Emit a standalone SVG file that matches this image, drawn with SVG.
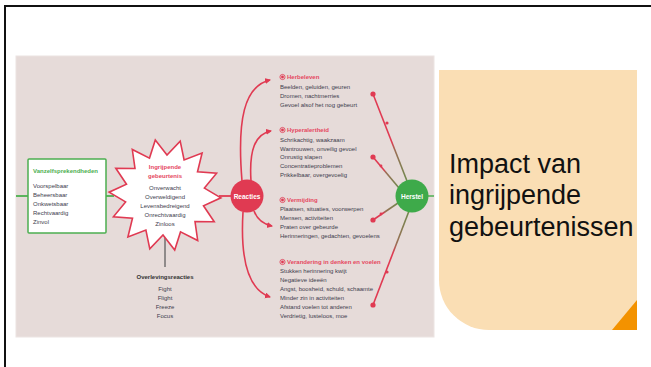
<svg xmlns="http://www.w3.org/2000/svg" width="651" height="367" viewBox="0 0 651 367">
<defs>
<style>
text{font-family:"Liberation Sans",Arial,sans-serif;}
.it{font-size:6px;fill:#3d3d4d;}
.itc{font-size:6px;fill:#3d3d4d;text-anchor:middle;}
.rt{font-size:6px;fill:#e5475f;font-weight:bold;}
.curve{fill:none;stroke:#e03a52;stroke-width:1.6;}
.dot{fill:#e03a52;}
.title{font-size:27px;fill:#111;}
</style>
<marker id="ah" markerUnits="userSpaceOnUse" markerWidth="7" markerHeight="7" refX="5" refY="3" orient="auto">
<path d="M0,0 L6,3 L0,6 z" fill="#e03a52"/>
</marker>
<linearGradient id="g1" gradientUnits="userSpaceOnUse" x1="407" y1="181" x2="373" y2="94">
<stop offset="0" stop-color="#6f8a4e"/><stop offset="0.35" stop-color="#9a6e55"/><stop offset="0.45" stop-color="#e03a52"/><stop offset="1" stop-color="#e03a52"/>
</linearGradient>
<linearGradient id="g2" gradientUnits="userSpaceOnUse" x1="399" y1="188" x2="373" y2="157">
<stop offset="0" stop-color="#6f8a4e"/><stop offset="0.5" stop-color="#9a6e55"/><stop offset="0.6" stop-color="#e03a52"/><stop offset="1" stop-color="#e03a52"/>
</linearGradient>
<linearGradient id="g3" gradientUnits="userSpaceOnUse" x1="398" y1="203" x2="373" y2="220">
<stop offset="0" stop-color="#6f8a4e"/><stop offset="0.5" stop-color="#9a6e55"/><stop offset="0.6" stop-color="#e03a52"/><stop offset="1" stop-color="#e03a52"/>
</linearGradient>
<linearGradient id="g4" gradientUnits="userSpaceOnUse" x1="409" y1="211" x2="373" y2="305">
<stop offset="0" stop-color="#6f8a4e"/><stop offset="0.35" stop-color="#9a6e55"/><stop offset="0.45" stop-color="#e03a52"/><stop offset="1" stop-color="#e03a52"/>
</linearGradient>
</defs>

<rect width="651" height="367" fill="#ffffff"/>
<path d="M5,367 V6 H651" fill="none" stroke="#111" stroke-width="2"/>

<!-- picture panel -->
<rect x="16" y="56" width="418" height="281" fill="#e6dbd9" stroke="#ece4e2" stroke-width="1"/>

<!-- title box -->
<g id="title">
<path d="M439,70 H637 V330 H489 A50,50 0 0 1 439,280 Z" fill="#fadeb4"/>
<path d="M612,330 H637 V300 Z" fill="#f39200"/>
<text class="title" x="449" y="173">Impact van</text>
<text class="title" x="449" y="204">ingrijpende</text>
<text class="title" x="449" y="236">gebeurtenissen</text>
</g>

<!-- connectors -->
<g id="connectors">
<line x1="16" y1="196" x2="28" y2="196" stroke="#4caf50" stroke-width="1.8"/>
<line x1="106" y1="196" x2="114" y2="196" stroke="#4caf50" stroke-width="1.8"/>
<line x1="219" y1="196" x2="232" y2="196" stroke="#e03a52" stroke-width="1.8"/>
<line x1="165" y1="236" x2="165" y2="267" stroke="#555" stroke-width="1.2"/>
<line x1="428" y1="196" x2="434" y2="196" stroke="#4caf50" stroke-width="1.5"/>
<path class="curve" d="M242,181 C237,120 244,86 270,80" marker-end="url(#ah)"/>
<path class="curve" d="M251,181 C249,150 255,134 271,131" marker-end="url(#ah)"/>
<path class="curve" d="M254,211 C257,219 262,224 272,226" marker-end="url(#ah)"/>
<path class="curve" d="M243,212 C240,262 249,290 270,297" marker-end="url(#ah)"/>
<line x1="407" y1="181" x2="373" y2="94" stroke="url(#g1)" stroke-width="1.6"/>
<line x1="399" y1="188" x2="373" y2="157" stroke="url(#g2)" stroke-width="1.6"/>
<line x1="398" y1="203" x2="373" y2="220" stroke="url(#g3)" stroke-width="1.6"/>
<line x1="409" y1="211" x2="373" y2="305" stroke="url(#g4)" stroke-width="1.6"/>
<circle class="dot" cx="373" cy="94" r="2.6"/>
<circle class="dot" cx="387" cy="123" r="1.6"/>
<circle class="dot" cx="373" cy="157" r="2.6"/>
<circle class="dot" cx="381" cy="166" r="1.4"/>
<circle class="dot" cx="373" cy="220" r="2.6"/>
<circle class="dot" cx="381" cy="214" r="1.4"/>
<circle class="dot" cx="373" cy="305" r="2.6"/>
<circle class="dot" cx="387" cy="272" r="1.6"/>
</g>

<!-- Vanzelfsprekendheden -->
<g id="vanzelf">
<rect x="28" y="159" width="78" height="74" fill="#ffffff" stroke="#4caf50" stroke-width="1.5" rx="1"/>
<text x="33" y="173" style="font-size:6px;fill:#4caf50;font-weight:bold">Vanzelfsprekendheden</text>
<text class="it" x="33" y="188">Voorspelbaar</text>
<text class="it" x="33" y="197">Beheersbaar</text>
<text class="it" x="33" y="206">Onkwetsbaar</text>
<text class="it" x="33" y="215">Rechtvaardig</text>
<text class="it" x="33" y="224">Zinvol</text>
</g>

<!-- star -->
<g id="ingrijpend">
<polygon points="155.3,139.9 167.0,155.0 180.2,141.1 184.1,159.9 202.1,153.0 197.5,171.7 216.6,173.2 204.4,188.1 220.9,197.8 203.5,205.8 214.2,221.8 195.0,221.5 197.7,240.5 180.5,231.9 174.7,250.1 163.0,235.0 149.8,248.9 145.9,230.1 127.9,237.0 132.5,218.3 113.4,216.8 125.6,201.9 109.1,192.2 126.5,184.2 115.8,168.2 135.0,168.5 132.3,149.5 149.5,158.1" fill="#ffffff" stroke="#e03a52" stroke-width="1.6" stroke-linejoin="miter"/>
<text x="165" y="169" style="font-size:6px;fill:#e5475f;font-weight:bold;text-anchor:middle">Ingrijpende</text>
<text x="165" y="178" style="font-size:6px;fill:#e5475f;font-weight:bold;text-anchor:middle">gebeurtenis</text>
<text class="itc" x="165" y="190">Onverwacht</text>
<text class="itc" x="165" y="199">Overweldigend</text>
<text class="itc" x="165" y="208">Levensbedreigend</text>
<text class="itc" x="165" y="217">Onrechtvaardig</text>
<text class="itc" x="165" y="226">Zinloos</text>
</g>

<!-- Overlevingsreacties -->
<g id="overleving">
<text x="165" y="279" style="font-size:6px;fill:#333;font-weight:bold;text-anchor:middle">Overlevingsreacties</text>
<text class="itc" x="165" y="291">Fight</text>
<text class="itc" x="165" y="300">Flight</text>
<text class="itc" x="165" y="309">Freeze</text>
<text class="itc" x="165" y="318">Focus</text>
</g>

<!-- Reacties -->
<g id="reacties">
<circle cx="247" cy="196" r="16.5" fill="#e03a52"/>
<text x="247" y="198.5" style="font-size:6.5px;fill:#fff;font-weight:bold;text-anchor:middle">Reacties</text>
</g>

<!-- Herstel -->
<g id="herstel">
<circle cx="412" cy="196" r="16.5" fill="#3eaa4a"/>
<text x="412" y="198.5" style="font-size:6.5px;fill:#fff;font-weight:bold;text-anchor:middle">Herstel</text>
</g>

<!-- Herbeleven -->
<g id="herbeleven">
<circle cx="282.5" cy="77" r="2.6" fill="none" stroke="#e03a52" stroke-width="0.8"/>
<circle cx="282.5" cy="77" r="1.4" fill="#e03a52"/>
<text class="rt" x="287" y="79">Herbeleven</text>
<text class="it" x="280" y="89">Beelden, geluiden, geuren</text>
<text class="it" x="280" y="98">Dromen, nachtmerries</text>
<text class="it" x="280" y="107">Gevoel alsof het nog gebeurt</text>
</g>

<!-- Hyperalertheid -->
<g id="hyperalertheid">
<circle cx="282.5" cy="130" r="2.6" fill="none" stroke="#e03a52" stroke-width="0.8"/>
<circle cx="282.5" cy="130" r="1.4" fill="#e03a52"/>
<text class="rt" x="287" y="132">Hyperalertheid</text>
<text class="it" x="280" y="142">Schrikachtig, waakzaam</text>
<text class="it" x="280" y="151">Wantrouwen, onveilig gevoel</text>
<text class="it" x="280" y="159">Onrustig slapen</text>
<text class="it" x="280" y="168">Concentratieproblemen</text>
<text class="it" x="280" y="177">Prikkelbaar, overgevoelig</text>
</g>

<!-- Vermijding -->
<g id="vermijding">
<circle cx="282.5" cy="200" r="2.6" fill="none" stroke="#e03a52" stroke-width="0.8"/>
<circle cx="282.5" cy="200" r="1.4" fill="#e03a52"/>
<text class="rt" x="287" y="202">Vermijding</text>
<text class="it" x="280" y="211">Plaatsen, situaties, voorwerpen</text>
<text class="it" x="280" y="220">Mensen, activiteiten</text>
<text class="it" x="280" y="229">Praten over gebeurde</text>
<text class="it" x="280" y="238">Herinneringen, gedachten, gevoelens</text>
</g>

<!-- Verandering -->
<g id="verandering">
<circle cx="282.5" cy="262" r="2.6" fill="none" stroke="#e03a52" stroke-width="0.8"/>
<circle cx="282.5" cy="262" r="1.4" fill="#e03a52"/>
<text class="rt" x="287" y="264">Verandering in denken en voelen</text>
<text class="it" x="280" y="273">Stukken herinnering kwijt</text>
<text class="it" x="280" y="282">Negatieve ideeën</text>
<text class="it" x="280" y="291">Angst, boosheid, schuld, schaamte</text>
<text class="it" x="280" y="300">Minder zin in activiteiten</text>
<text class="it" x="280" y="309">Afstand voelen tot anderen</text>
<text class="it" x="280" y="318">Verdrietig, lusteloos, moe</text>
</g>
</svg>
